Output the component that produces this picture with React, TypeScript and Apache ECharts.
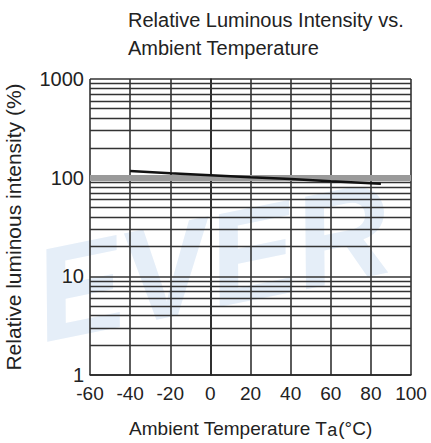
import React, { useEffect, useRef } from "react";
import * as echarts from "echarts";

const temperature = [-40, -20, 0, 20, 40, 60, 85];
const intensity = [117, 111, 106, 101, 97, 92, 87];
const yMinor = [2, 3, 4, 5, 6, 7, 8, 9, 20, 30, 40, 50, 60, 70, 80, 90, 200, 300, 400, 500, 600, 700, 800, 900];
const yBand = [100];
const titleLines = ["Relative Luminous Intensity vs.", "Ambient Temperature"];
const xName = "Ambient Temperature T";
const yName = "Relative luminous intensity (%)";

const FONT = "'Liberation Sans', Arial, sans-serif";

export default function App() {
  const ref = useRef<HTMLDivElement>(null);
  useEffect(() => {
    document.body.style.margin = "0";
    const chart = echarts.init(ref.current!, undefined, { renderer: "svg" });
    chart.setOption({
      animation: false,
      textStyle: { fontFamily: FONT },
      title: {
        text: titleLines.join("\n"),
        left: 123,
        top: 1,
        textStyle: { fontSize: 20, fontWeight: "normal", color: "#222", lineHeight: 28, fontFamily: FONT },
      },
      graphic: [
        {
          type: "text",
          z: -10,
          x: 212,
          y: 262,
          rotation: 0.2,
          style: {
            text: "EVER",
            font: "italic bold 132px 'Liberation Sans', Arial, sans-serif",
            fill: "#e5eef8",
            textAlign: "center",
            textVerticalAlign: "middle",
          },
        },
      ],
      grid: { left: 90, right: 20, top: 79, bottom: 68, outerBoundsMode: "none", containLabel: false },
      xAxis: {
        type: "value",
        min: -60,
        max: 100,
        interval: 20,
        name: xName + "{s|a}{n|(°C)}",
        nameLocation: "middle",
        nameGap: 42,
        nameTextStyle: {
          fontSize: 19,
          color: "#222",
          rich: {
            s: { fontSize: 18, color: "#222", padding: [4, 1, 0, 0] },
            n: { fontSize: 19, color: "#222" },
          },
        },
        axisLine: { show: true, lineStyle: { color: "#222", width: 1.5 } },
        axisTick: { show: false },
        axisLabel: { fontSize: 19, color: "#222", margin: 9 },
        splitLine: { show: true, lineStyle: { color: "#333", width: 1.6 } },
      },
      yAxis: {
        type: "log",
        logBase: 10,
        min: 1,
        max: 1000,
        name: yName,
        nameLocation: "middle",
        nameGap: 66,
        nameTextStyle: { fontSize: 21, color: "#222" },
        axisLine: { show: true, lineStyle: { color: "#222", width: 1.5 } },
        axisTick: { show: false },
        axisLabel: { fontSize: 20, color: "#222", margin: 6, formatter: (v: number) => String(v) },
        splitLine: { show: true, lineStyle: { color: "#333", width: 1.6 } },
      },
      series: [
        {
          type: "line",
          data: temperature.map((t, i) => [t, intensity[i]]),
          symbol: "none",
          lineStyle: { color: "#111", width: 2.5 },
          z: 5,
          markLine: {
            silent: true,
            symbol: "none",
            label: { show: false },
            lineStyle: { color: "#333", width: 1.4, type: "solid" },
            data: [
              ...yMinor.map((v) => ({ yAxis: v })),
              ...yBand.map((v) => ({ yAxis: v, lineStyle: { color: "#9a9a9a", width: 6, type: "solid" } })),
            ],
          },
        },
      ],
    });
    return () => chart.dispose();
  }, []);
  return <div ref={ref} style={{ width: 431, height: 443 }} />;
}
